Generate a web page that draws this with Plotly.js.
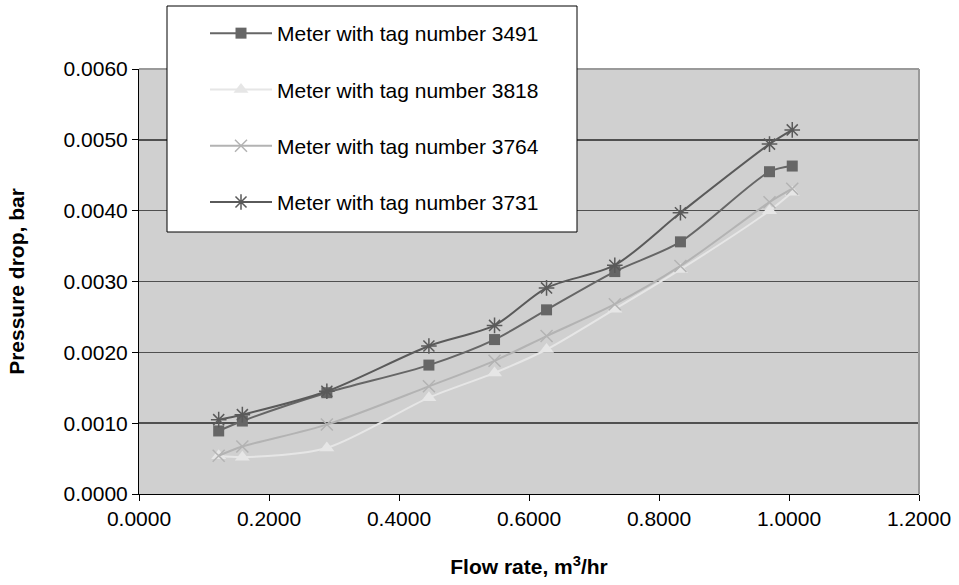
<!DOCTYPE html>
<html>
<head>
<meta charset="utf-8">
<script src="https://cdn.plot.ly/plotly-3.0.1.min.js"></script>
<style>html,body{margin:0;padding:0;background:#fff;}#chart{width:959px;height:585px;}</style>
</head>
<body>
<div id="chart"></div>
<script>
// Flow rate, m3/hr
const flowRate = [0.1226, 0.159, 0.289, 0.446, 0.547, 0.627, 0.732, 0.833, 0.970, 1.005];
// Pressure drop, bar
const meter3491 = [0.00089, 0.00103, 0.00143, 0.00182, 0.00218, 0.00260, 0.00314, 0.00356, 0.00455, 0.00463];
const meter3818 = [0.00054, 0.00052, 0.00065, 0.00136, 0.00171, 0.00204, 0.00261, 0.00317, 0.00400, 0.00426];
const meter3764 = [0.00054, 0.00067, 0.00098, 0.00152, 0.00188, 0.00223, 0.00268, 0.00322, 0.00412, 0.00431];
const meter3731 = [0.00105, 0.00112, 0.00145, 0.00209, 0.00238, 0.00291, 0.00323, 0.00397, 0.00494, 0.00514];
const seriesNames = ["Meter with tag number 3491", "Meter with tag number 3818", "Meter with tag number 3764", "Meter with tag number 3731"];
const yTickVals = [0, 0.001, 0.002, 0.003, 0.004, 0.005, 0.006];
const xTickVals = [0, 0.2, 0.4, 0.6, 0.8, 1.0, 1.2];

const FONT = "Liberation Sans, Arial, Helvetica, sans-serif";

function mk(y, name, color, symbol, size, lw, grp, open) {
  return {
    x: flowRate, y: y, name: name, type: "scatter", mode: "lines+markers",
    legendgroup: grp,
    line: {color: color, width: 2, shape: "spline", smoothing: 0.8},
    marker: open ? {symbol: symbol, size: size, color: color, line: {color: color, width: lw}}
                 : {symbol: symbol, size: size, color: color, line: {width: 0}}
  };
}

const data = [
  mk(meter3491, seriesNames[0], "#666666", "square", 11, 0, "g1", false),
  mk(meter3818, seriesNames[1], "#e6e6e6", "triangle-up", 13, 0, "g2", false),
  mk(meter3764, seriesNames[2], "#b3b3b3", "x-thin-open", 12, 1.5, "g3", true),
  mk(meter3731, seriesNames[3], "#5a5a5a", "asterisk-open", 13, 1.5, "g4", true)
];

const L = 139, R = 40, T = 69, B = 91, W = 959, H = 585;
const pw = W - L - R, ph = H - T - B;
const px = v => (v - L) / pw;
const py = v => (H - B - v) / ph;

const layout = {
  width: W, height: H,
  margin: {l: L, r: R, t: T, b: B, pad: 0},
  paper_bgcolor: "#ffffff",
  plot_bgcolor: "#d0d0d0",
  font: {family: FONT, size: 21, color: "#000"},
  showlegend: true,
  legend: {
    x: px(205), y: py(13), xanchor: "left", yanchor: "top",
    bgcolor: "rgba(0,0,0,0)", borderwidth: 0,
    font: {family: FONT, size: 21, color: "#000"},
    itemwidth: 62, tracegroupgap: 26, traceorder: "grouped"
  },
  xaxis: {
    range: [0, 1.2], tickvals: xTickVals, tickformat: ".4f",
    showgrid: false, zeroline: false,
    showline: true, linecolor: "#000", linewidth: 1,
    ticks: "outside", ticklen: 6, tickcolor: "#000", tickwidth: 1,
    tickfont: {family: FONT, size: 21, color: "#000"},
    title: {text: "<b>Flow rate, m<sup>3</sup>/hr</b>", font: {family: FONT, size: 21, color: "#000"}, standoff: 30},
    fixedrange: true
  },
  yaxis: {
    range: [0, 0.006], tickvals: yTickVals, tickformat: ".4f",
    showgrid: true, gridcolor: "#505050", gridwidth: 1.5,
    zeroline: false,
    showline: true, linecolor: "#000", linewidth: 1,
    ticks: "outside", ticklen: 6, tickcolor: "#000", tickwidth: 1,
    tickfont: {family: FONT, size: 21, color: "#000"},
    title: {text: "<b>Pressure drop, bar</b>", font: {family: FONT, size: 21, color: "#000"}, standoff: 33},
    fixedrange: true
  },
  shapes: [
    {type: "line", xref: "paper", yref: "paper", x0: 0, x1: 1, y0: 1, y1: 1, line: {color: "#9a9a9a", width: 2}, layer: "above"},
    {type: "line", xref: "paper", yref: "paper", x0: 1, x1: 1, y0: 0, y1: 1, line: {color: "#9a9a9a", width: 2}, layer: "above"},
    {type: "rect", xref: "paper", yref: "paper", x0: px(167), x1: px(577), y0: py(232), y1: py(6),
     fillcolor: "#ffffff", line: {color: "#000", width: 1}, layer: "above"}
  ]
};

Plotly.newPlot("chart", data, layout, {displayModeBar: false, staticPlot: true});
</script>
</body>
</html>
